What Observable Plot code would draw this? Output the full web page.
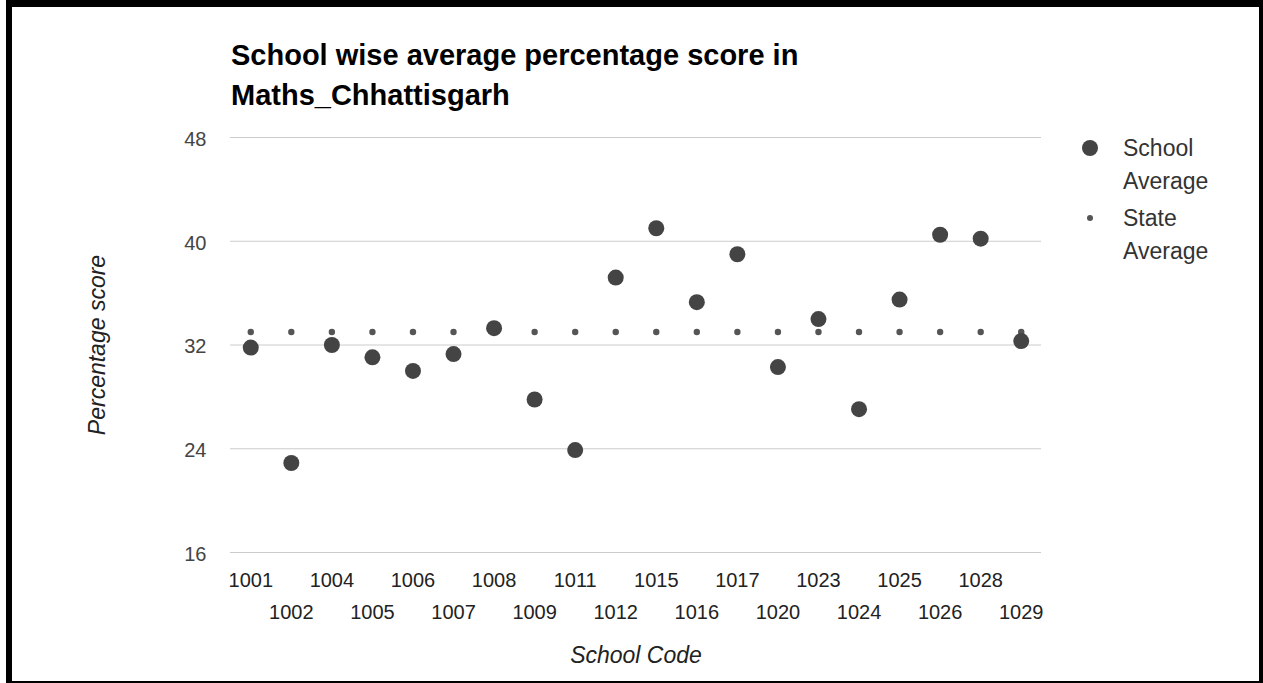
<!DOCTYPE html>
<html>
<head>
<meta charset="utf-8">
<script src="https://cdn.jsdelivr.net/npm/d3@7"></script>
<script src="https://cdn.jsdelivr.net/npm/@observablehq/plot@0.6"></script>
<style>
  html, body { margin: 0; padding: 0; background: #fff; }
  body { width: 1263px; height: 683px; position: relative; overflow: hidden; font-family: "Liberation Sans", Arial, sans-serif; }
  #frame { position: absolute; left: 6px; top: 0; width: 1257px; height: 683px; box-sizing: border-box;
           border-top: 7px solid #000; border-left: 6px solid #000; border-right: 4px solid #000; border-bottom: 2px solid #000; }
  #title { position: absolute; left: 231px; top: 35px; font-size: 29px; font-weight: bold; line-height: 40px; color: #000; white-space: nowrap; }
  #chart { position: absolute; left: 0; top: 120px; }
  .leg { position: absolute; font-size: 23px; color: #333; line-height: 33px; }
  .dot { position: absolute; border-radius: 50%; background: #444; }
</style>
</head>
<body>
<div id="frame"></div>
<div id="title">School wise average percentage score in<br>Maths_Chhattisgarh</div>
<div id="chart"></div>
<div class="dot" style="left:1082px;top:140px;width:16px;height:16px;"></div>
<div class="leg" style="left:1123px;top:132px;">School<br>Average</div>
<div class="dot" style="left:1087px;top:215px;width:6px;height:6px;background:#555;"></div>
<div class="leg" style="left:1123px;top:202px;">State<br>Average</div>
<script>
const schoolCodes = ["1001","1002","1004","1005","1006","1007","1008","1009","1011","1012",
                     "1015","1016","1017","1020","1023","1024","1025","1026","1028","1029"];
const schoolAverage = [31.8, 22.9, 32.0, 31.05, 30.0, 31.3, 33.3, 27.8, 23.9, 37.2,
                       41.0, 35.3, 39.0, 30.3, 34.0, 27.05, 35.5, 40.5, 40.2, 32.3];
const stateAverage = 33.0;
const yTicks = [16, 24, 32, 40, 48];

const rows = schoolCodes.map((code, i) => ({code, school: schoolAverage[i], state: stateAverage}));
const evenCodes = schoolCodes.filter((d, i) => i % 2 === 0);
const oddCodes = schoolCodes.filter((d, i) => i % 2 === 1);

const chart = Plot.plot({
  width: 1263,
  height: 560,
  marginLeft: 230,
  marginRight: 222,
  marginTop: 17,
  marginBottom: 128,
  style: {fontFamily: "'Liberation Sans', Arial, sans-serif", fontSize: "20px", color: "#444", background: "transparent"},
  x: {type: "band", domain: schoolCodes, padding: 0, round: false, label: null},
  y: {domain: [16, 48], label: null},
  marks: [
    Plot.gridY(yTicks, {stroke: "#ccc", strokeOpacity: 1, strokeWidth: 1}),
    Plot.axisY(yTicks, {tickSize: 0, tickPadding: 24, fontSize: 20, fill: "#444", dy: 2}),
    Plot.axisX(evenCodes, {tickSize: 0, tickPadding: 20, fontSize: 20, fill: "#222"}),
    Plot.axisX(oddCodes, {tickSize: 0, tickPadding: 52, fontSize: 20, fill: "#222"}),
    Plot.dot(rows, {x: "code", y: "state", r: 3.2, fill: "#555", stroke: "none"}),
    Plot.dot(rows, {x: "code", y: "school", r: 8, fill: "#444", stroke: "none"}),
    Plot.text(["Percentage score"], {frameAnchor: "left", textAnchor: "middle", dx: -133, rotate: -90, fontStyle: "italic", fontSize: 23, fill: "#222"}),
    Plot.text(["School Code"], {frameAnchor: "bottom", dy: 110, fontStyle: "italic", fontSize: 23, fill: "#222"})
  ]
});
document.getElementById("chart").appendChild(chart);
</script>
</body>
</html>
